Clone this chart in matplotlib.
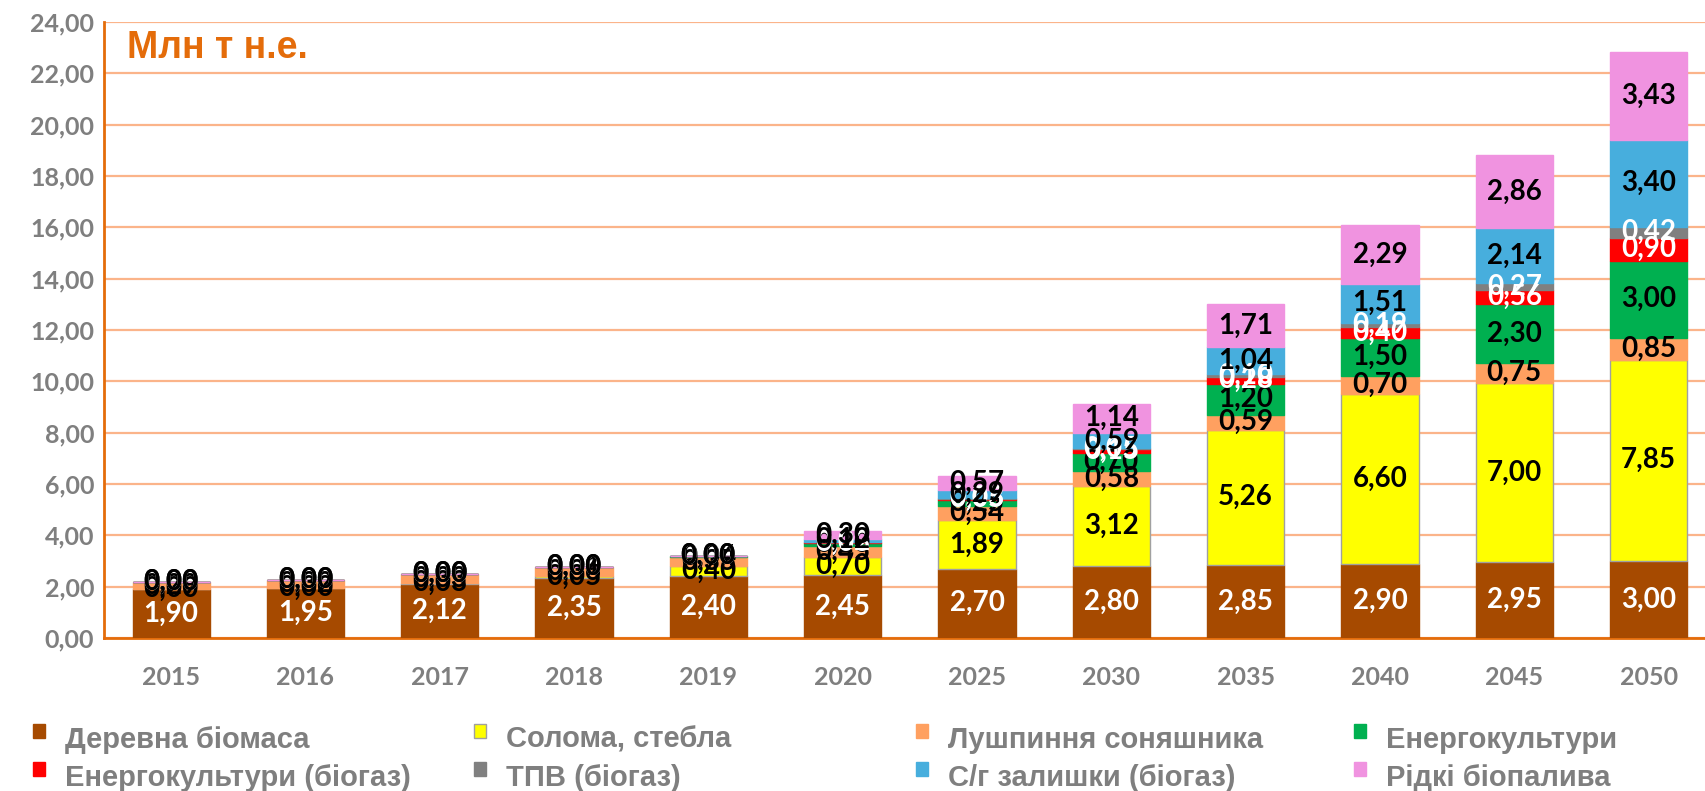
import matplotlib.pyplot as plt
from matplotlib.patches import Rectangle
from matplotlib.ticker import FuncFormatter, MultipleLocator
import numpy as np

years = ["2015", "2016", "2017", "2018", "2019", "2020",
         "2025", "2030", "2035", "2040", "2045", "2050"]

wood = [1.90, 1.95, 2.12, 2.35, 2.40, 2.45, 2.70, 2.80, 2.85, 2.90, 2.95, 3.00]
straw = [0.00, 0.00, 0.03, 0.05, 0.40, 0.70, 1.89, 3.12, 5.26, 6.60, 7.00, 7.85]
husk = [0.29, 0.32, 0.33, 0.36, 0.35, 0.45, 0.54, 0.58, 0.59, 0.70, 0.75, 0.85]
energy = [0.00, 0.00, 0.00, 0.01, 0.04, 0.10, 0.25, 0.70, 1.20, 1.50, 2.30, 3.00]
energy_bio = [0.00, 0.00, 0.00, 0.00, 0.00, 0.03, 0.05, 0.15, 0.28, 0.40, 0.56, 0.90]
msw_bio = [0.00, 0.00, 0.00, 0.00, 0.00, 0.02, 0.03, 0.05, 0.10, 0.19, 0.27, 0.42]
agri_bio = [0.00, 0.00, 0.00, 0.00, 0.00, 0.12, 0.29, 0.59, 1.04, 1.51, 2.14, 3.40]
liquid = [0.00, 0.00, 0.00, 0.00, 0.00, 0.30, 0.57, 1.14, 1.71, 2.29, 2.86, 3.43]

series_names = ["Деревна біомаса", "Солома, стебла", "Лушпиння соняшника",
                "Енергокультури", "Енергокультури (біогаз)", "ТПВ (біогаз)",
                "С/г залишки (біогаз)", "Рідкі біопалива"]
series_values = [wood, straw, husk, energy, energy_bio, msw_bio, agri_bio, liquid]
colors = ["#A64A00", "#FFFF00", "#FFA060", "#00B050",
          "#FF0000", "#808080", "#47AEDD", "#F093E0"]
label_colors = ["white", "black", "black", "black",
                "white", "white", "black", "black"]

W, H = 1705, 791
fig = plt.figure(figsize=(W / 100, H / 100), dpi=100)
ax = fig.add_axes([104 / W, 1 - 638 / H, 1 - 104 / W, (638 - 22) / H])

x = np.arange(len(years))
bottom = np.zeros(len(years))
for name, vals, col, lc in zip(series_names, series_values, colors, label_colors):
    vals = np.array(vals)
    edge = "#A0A0A0" if col == "#FFFF00" else col
    ax.bar(x, vals, width=0.575, bottom=bottom, color=col, edgecolor=edge,
           linewidth=1, zorder=3)
    for xi, b, v in zip(x, bottom, vals):
        ax.text(xi, b + v / 2, f"{v:.2f}".replace(".", ","), ha="center",
                va="center", fontsize=20, fontweight="bold", family="Lato",
                color=lc, zorder=4)
    bottom += vals

ax.set_xlim(-0.50, 11.42)
ax.set_ylim(0, 24)
ax.yaxis.set_major_locator(MultipleLocator(2))
ax.yaxis.set_major_formatter(FuncFormatter(lambda v, p: f"{v:.2f}".replace(".", ",")))
ax.set_xticks(x)
ax.set_xticklabels(years)
ax.grid(axis="y", color="#FBB48A", linewidth=1.6, zorder=0)
ax.tick_params(length=0, labelsize=18, labelcolor="#7F7F7F")
ax.tick_params(axis="x", pad=20)
ax.tick_params(axis="y", pad=7)
for lab in ax.get_xticklabels() + ax.get_yticklabels():
    lab.set_fontweight("bold")
    lab.set_family("Lato")
for s in ["top", "right"]:
    ax.spines[s].set_visible(False)
ax.spines["left"].set_color("#E46C0A")
ax.spines["left"].set_linewidth(2)
ax.spines["bottom"].set_color("#E46C0A")
ax.spines["bottom"].set_linewidth(2)

fig.text(127 / W, 1 - 58 / H, "Млн т н.е.", fontsize=27, fontweight="bold",
         family="Liberation Sans", color="#E46C0A", va="baseline")

# legend, 4 columns x 2 rows
col_x = [33, 474, 916, 1354]
row_y = [724, 762]
for i, (name, col) in enumerate(zip(series_names, colors)):
    cx = col_x[i % 4]
    ry = row_y[i // 4]
    edge = "#A0A0A0" if col == "#FFFF00" else col
    fig.add_artist(Rectangle((cx / W, 1 - (ry + 14) / H), 12 / W, 14 / H,
                             transform=fig.transFigure, facecolor=col,
                             edgecolor=edge, linewidth=1))
    fig.text((cx + 32) / W, 1 - (ry + 24) / H, name, fontsize=21,
             fontweight="bold", family="Liberation Sans", color="#7F7F7F",
             va="baseline")

fig.savefig("out.png", dpi=100)
